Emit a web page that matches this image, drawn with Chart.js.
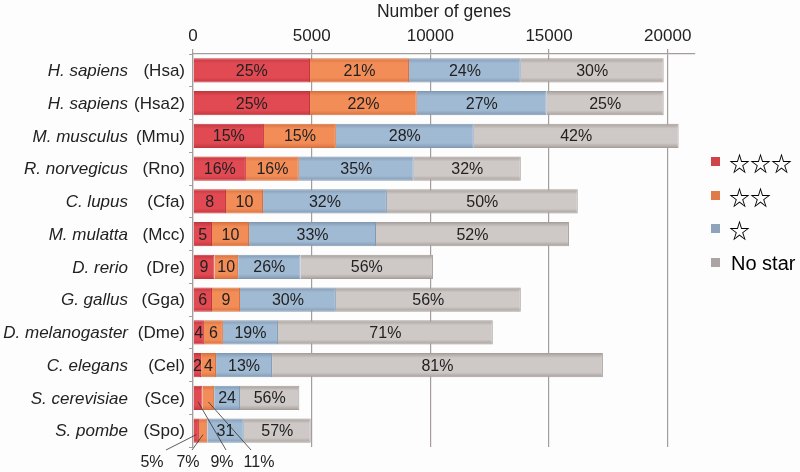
<!DOCTYPE html>
<html>
<head>
<meta charset="utf-8">
<script src="https://cdn.jsdelivr.net/npm/chart.js@4.4.1/dist/chart.umd.min.js"></script>
<style>
  html, body { margin: 0; padding: 0; background: #fdfdfd; }
  #wrap { width: 800px; height: 472px; }
</style>
</head>
<body>
<div id="wrap"><canvas id="genes"></canvas></div>
<script>
const names = ['H. sapiens', 'H. sapiens', 'M. musculus', 'R. norvegicus', 'C. lupus', 'M. mulatta',
  'D. rerio', 'G. gallus', 'D. melanogaster', 'C. elegans', 'S. cerevisiae', 'S. pombe'];
const codes = ['(Hsa)', '(Hsa2)', '(Mmu)', '(Rno)', '(Cfa)', '(Mcc)', '(Dre)', '(Gga)', '(Dme)', '(Cel)', '(Sce)', '(Spo)'];

// gene counts per star class
const threeStar = [4930, 4930, 2990, 2230, 1390, 800, 900, 800, 460, 340, 400, 250];
const twoStar = [4170, 4500, 3030, 2230, 1560, 1560, 1000, 1180, 800, 630, 490, 350];
const oneStar = [4710, 5470, 5810, 4840, 5220, 5350, 2630, 4040, 2320, 2360, 1090, 1540];
const noStar = [6020, 4930, 8630, 4510, 8040, 8130, 5580, 7790, 9050, 13940, 2500, 2820];

// text printed inside the segments
const threeLabels = ['25%', '25%', '15%', '16%', '8', '5', '9', '6', '4', '2', '', ''];
const twoLabels = ['21%', '22%', '15%', '16%', '10', '10', '10', '9', '6', '4', '', ''];
const oneLabels = ['24%', '27%', '28%', '35%', '32%', '33%', '26%', '30%', '19%', '13%', '24', '31'];
const noLabels = ['30%', '25%', '42%', '32%', '50%', '52%', '56%', '56%', '71%', '81%', '56%', '57%'];

// callouts under the chart: [text, dataset, row]
const callouts = [['5%', 0, 11], ['7%', 1, 11], ['9%', 0, 10], ['11%', 1, 10]];

const xTicks = [0, 5000, 10000, 15000, 20000];
const legendText = ['\u2606\u2606\u2606', '\u2606\u2606', '\u2606', 'No star'];

const FONT = '"Liberation Sans", Arial, Helvetica, sans-serif';
const GRID = '#a49d9b';

function shaded(base, edge) {
  return (c) => {
    const chart = c.chart;
    if (!chart.chartArea || !chart.scales.y) return base;
    const y = chart.scales.y.getPixelForValue(c.dataIndex);
    const h = 12;
    const g = chart.ctx.createLinearGradient(0, y - h, 0, y + h);
    g.addColorStop(0, edge);
    g.addColorStop(0.2, base);
    g.addColorStop(0.8, base);
    g.addColorStop(1, edge);
    return g;
  };
}

const series = [
  { label: '***', data: threeStar, text: threeLabels, fill: '#e14a52', edge: '#c4363e', key: '#d0434b' },
  { label: '**', data: twoStar, text: twoLabels, fill: '#f28d58', edge: '#d8713f', key: '#e07b47' },
  { label: '*', data: oneStar, text: oneLabels, fill: '#a1bad3', edge: '#8299b2', key: '#8fa3b9' },
  { label: 'none', data: noStar, text: noLabels, fill: '#cec9c6', edge: '#a79f9c', key: '#aaa4a2' }
];

const extras = {
  id: 'extras',
  afterDatasetsDraw(chart) {
    const ctx = chart.ctx;
    const area = chart.chartArea;
    const y = chart.scales.y;
    ctx.save();
    // segment labels
    ctx.font = '16px ' + FONT;
    ctx.fillStyle = '#222';
    ctx.textAlign = 'center';
    ctx.textBaseline = 'middle';
    series.forEach((s, i) => {
      chart.getDatasetMeta(i).data.forEach((bar, j) => {
        const t = s.text[j];
        if (!t) return;
        const p = bar.getCenterPoint();
        ctx.fillText(t, p.x, p.y + 1);
      });
    });
    // category labels: italic name + code
    names.forEach((n, i) => {
      const py = y.getPixelForValue(i);
      ctx.textAlign = 'right';
      ctx.font = 'italic 17px ' + FONT;
      ctx.fillText(n, area.left - 65, py + 1);
      ctx.font = '17px ' + FONT;
      ctx.fillText(codes[i], area.left - 8, py + 1);
    });
    // callouts below the last rows
    const labelX = [152, 188, 222, 259];
    ctx.strokeStyle = '#333';
    ctx.lineWidth = 0.8;
    ctx.font = '16px ' + FONT;
    ctx.textAlign = 'center';
    callouts.forEach((c, k) => {
      const bar = chart.getDatasetMeta(c[1]).data[c[2]];
      const p = bar.getCenterPoint();
      const tx = labelX[k];
      ctx.beginPath();
      ctx.moveTo(tx + (k === 0 ? 14 : k === 3 ? -8 : 4), area.bottom + 3);
      ctx.lineTo(p.x, p.y + 4);
      ctx.stroke();
      ctx.fillText(c[0], tx, area.bottom + 16);
    });
    // legend
    const ly = [162, 196, 229, 263];
    series.forEach((s, i) => {
      ctx.fillStyle = s.key;
      ctx.fillRect(711, ly[i] - 5, 9, 9);
      ctx.fillStyle = '#000';
      ctx.textAlign = 'left';
      if (i < 3) {
        ctx.font = 'bold 21px "Noto Sans CJK JP", "DejaVu Sans", sans-serif';
        ctx.fillText(legendText[i], 729, ly[i] + 1);
      } else {
        ctx.font = '20px ' + FONT;
        ctx.fillText(legendText[i], 731, ly[i] + 1);
      }
    });
    ctx.restore();
  }
};

new Chart(document.getElementById('genes'), {
  type: 'bar',
  data: {
    labels: codes,
    datasets: series.map(s => ({
      label: s.label,
      data: s.data,
      backgroundColor: shaded(s.fill, s.edge),
      borderColor: s.edge,
      borderWidth: 1,
      barPercentage: 0.9,
      categoryPercentage: 0.82
    }))
  },
  options: {
    indexAxis: 'y',
    responsive: true,
    maintainAspectRatio: false,
    animation: false,
    layout: { padding: { top: 0, right: 105, bottom: 25, left: 0 } },
    plugins: { legend: { display: false }, tooltip: { enabled: false } },
    scales: {
      x: {
        position: 'top',
        stacked: true,
        min: 0,
        max: 21150,
        afterBuildTicks: (s) => { s.ticks = xTicks.map(v => ({ value: v })); },
        afterFit: (s) => { s.height = 54; },
        ticks: { color: '#222', font: { family: FONT, size: 17 }, padding: 2, maxRotation: 0, callback: (v) => String(v) },
        grid: { color: GRID, lineWidth: 1.2, tickLength: 5 },
        border: { color: GRID, width: 1.2 },
        title: { display: true, text: 'Number of genes', color: '#222', font: { family: FONT, size: 17.5 }, padding: { top: 2, bottom: 4 } }
      },
      y: {
        stacked: true,
        afterFit: (s) => { s.width = 193; },
        ticks: { display: false },
        grid: { drawOnChartArea: false, color: GRID, tickLength: 4, offset: true },
        border: { color: GRID, width: 1.2 }
      }
    }
  },
  plugins: [extras]
});
</script>
</body>
</html>
